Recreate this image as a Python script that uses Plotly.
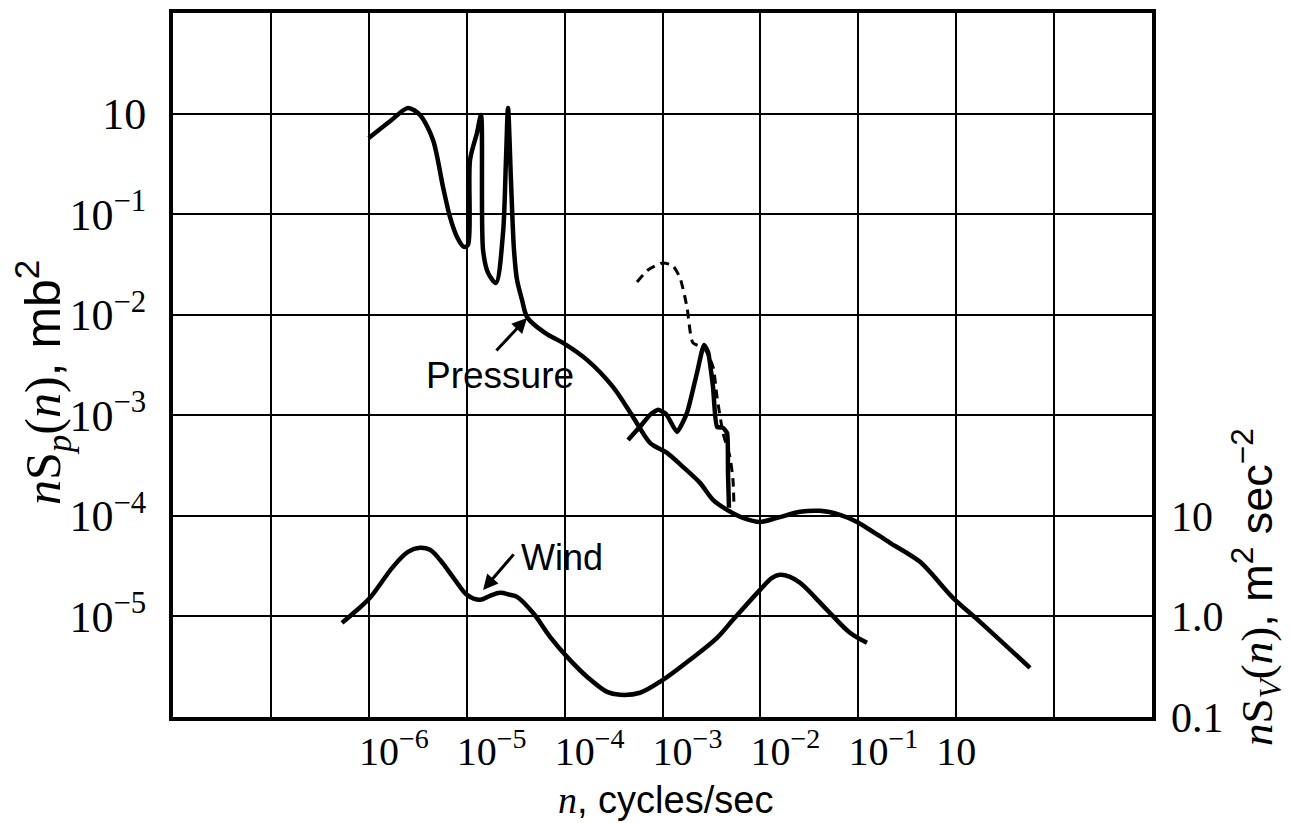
import numpy as np
import plotly.graph_objects as go

# ---------------- data (log10 values) ----------------
# Pressure spectrum, main solid curve (left axis, mb^2)
pressure_log_n = [-6.0, -5.78, -5.60, -5.477, -5.344, -5.242, -5.171, -5.099, -5.028, -4.987,
                  -4.966, -4.895, -4.854, -4.833, -4.782, -4.701, -4.629, -4.599, -4.578, -4.548,
                  -4.517, -4.486, -4.435, -4.384, -4.2, -4.016, -3.771, -3.506, -3.301, -3.128,
                  -2.954, -2.791, -2.617, -2.484, -2.341, -2.178, -2.004, -1.830, -1.595, -1.391,
                  -1.187, -1.013, -0.676, -0.370, -0.033, 0.243, 0.754]
pressure_log_S = [-0.243, -0.074, 0.056, -0.014, -0.262, -0.730, -1.028, -1.227, -1.326, -1.306,
                  -0.461, -0.193, -0.014, -1.356, -1.584, -1.684, -1.187, -0.461, 0.056, -0.660,
                  -1.356, -1.654, -1.853, -2.022, -2.181, -2.280, -2.449, -2.718, -3.016, -3.274,
                  -3.374, -3.513, -3.672, -3.841, -3.940, -4.020, -4.060, -4.020, -3.960, -3.950,
                  -3.990, -4.060, -4.268, -4.457, -4.815, -5.054, -5.511]

# Pressure spectrum, second solid branch (microbarograph peak)
pressure2_log_n = [-3.352, -3.230, -3.128, -3.046, -2.964, -2.852, -2.750, -2.648, -2.576, -2.535,
                   -2.484, -2.443, -2.382, -2.341, -2.331, -2.321]
pressure2_log_S = [-3.245, -3.115, -2.996, -2.946, -2.986, -3.165, -2.976, -2.579, -2.300, -2.370,
                   -2.718, -3.115, -3.125, -3.175, -3.573, -3.920]

# Pressure spectrum, dashed branch
pressure_dash_log_n = [-3.260, -3.148, -2.995, -2.893, -2.821, -2.750, -2.689, -2.576, -2.484,
                       -2.443, -2.382, -2.311, -2.280, -2.270]
pressure_dash_log_S = [-1.674, -1.555, -1.485, -1.515, -1.634, -1.922, -2.280, -2.330, -2.519,
                       -2.817, -3.175, -3.414, -3.642, -3.911]

# Wind spectrum (right axis, m^2 sec^-2)
wind_log_n = [-6.274, -6.141, -5.988, -5.753, -5.600, -5.477, -5.375, -5.273, -5.120, -4.997,
              -4.864, -4.762, -4.660, -4.558, -4.486, -4.323, -4.149, -3.975, -3.771, -3.567,
              -3.434, -3.230, -2.995, -2.719, -2.443, -2.280, -2.004, -1.881, -1.800, -1.698,
              -1.595, -1.320, -1.085, -0.911]
wind_log_S = [-0.064, 0.046, 0.185, 0.493, 0.642, 0.682, 0.662, 0.563, 0.364, 0.215,
              0.165, 0.205, 0.235, 0.215, 0.195, 0.036, -0.203, -0.402, -0.600, -0.750,
              -0.779, -0.759, -0.630, -0.431, -0.213, -0.034, 0.264, 0.384, 0.414, 0.394,
              0.334, 0.066, -0.163, -0.262]

# Axis ticks (as printed in the original figure)
x_tick_vals = [1e-8, 1e-7, 1e-6, 1e-5, 1e-4, 1e-3, 1e-2, 1e-1, 1e0, 1e1, 1e2]
x_tick_labels = ["", "", "10<sup>−6</sup>", "10<sup>−5</sup>", "10<sup>−4</sup>", "10<sup>−3</sup>",
                 "10<sup>−2</sup>", "10<sup>−1</sup>", "10" + "\u00a0" * 5, "", ""]
y_tick_vals = [1e-6, 1e-5, 1e-4, 1e-3, 1e-2, 1e-1, 1e0, 1e1]
y_tick_labels = ["", "10<sup>−5</sup>", "10<sup>−4</sup>", "10<sup>−3</sup>", "10<sup>−2</sup>",
                 "10<sup>−1</sup>", "10", ""]
y2_tick_vals = [0.1, 1.0, 10.0]
y2_tick_labels = ["0.1", "1.0", "10"]

# ---------------------------------------------------------------------------
def p10(a):
    return 10 ** np.array(a)

SERIF = "Liberation Serif"
SANS = "Liberation Sans"
LW = 4.5

# page offset (browser body margin) and plot-area geometry
W, H = 1283, 815
L, T, PW, PH = 165, 5, 979, 704

def px(xp):   # screen x (reference pixels) -> paper x
    return (xp - 8 - L) / PW

def py(yp):   # screen y (reference pixels) -> paper y
    return (T + PH - (yp - 8)) / PH

fig = go.Figure()
fig.add_trace(go.Scatter(x=p10(pressure_log_n), y=p10(pressure_log_S), mode="lines",
                         line=dict(color="black", width=LW, shape="spline", smoothing=0.8),
                         showlegend=False))
fig.add_trace(go.Scatter(x=p10(pressure2_log_n), y=p10(pressure2_log_S), mode="lines",
                         line=dict(color="black", width=LW, shape="spline", smoothing=0.5),
                         showlegend=False))
fig.add_trace(go.Scatter(x=p10(pressure_dash_log_n), y=p10(pressure_dash_log_S), mode="lines",
                         line=dict(color="black", width=3, dash="9px,6px", shape="spline", smoothing=0.6),
                         showlegend=False))
fig.add_trace(go.Scatter(x=p10(wind_log_n), y=p10(wind_log_S), mode="lines", yaxis="y2",
                         line=dict(color="black", width=LW, shape="spline", smoothing=1.0),
                         showlegend=False))

axis_common = dict(type="log", showline=True, linecolor="black", linewidth=4, mirror=True,
                   showgrid=True, gridcolor="black", gridwidth=2, ticks="", zeroline=False,
                   automargin=False)

fig.update_layout(
    width=W, height=H,
    margin=dict(l=L, r=W - L - PW, t=T, b=H - T - PH),
    paper_bgcolor="white", plot_bgcolor="white",
    showlegend=False,
    xaxis=dict(**axis_common, range=[-8, 2], tickvals=x_tick_vals, ticktext=x_tick_labels,
               tickangle=0, ticklabelshift=25,
               tickfont=dict(family=SERIF, size=40, color="black"), ticklabelstandoff=-4),
    yaxis=dict(**axis_common, range=[-6, 1], tickvals=y_tick_vals, ticktext=y_tick_labels,
               tickfont=dict(family=SERIF, size=44, color="black"), ticklabelstandoff=14),
    yaxis2=dict(type="log", overlaying="y", side="right", range=[-1, 6], showgrid=False,
                showline=False, zeroline=False, ticks="", tickvals=y2_tick_vals, automargin=False,
                ticktext=y2_tick_labels, tickfont=dict(family=SERIF, size=42, color="black"),
                ticklabelstandoff=18),
)

annotations = [
    # axis titles
    dict(text="<i>n</i>S<sub><i>p</i></sub>(<i>n</i>)<span style='font-family:Liberation Sans'>, mb<sup>2</sup></span>",
         xref="paper", yref="paper", x=px(43), y=py(383), xanchor="center", yanchor="middle",
         showarrow=False, textangle=-90, font=dict(family=SERIF, size=50, color="black")),
    dict(text="<i>n</i>S<sub><i>V</i></sub>(<i>n</i>)<span style='font-family:Liberation Sans'>, m<sup>2</sup> sec<sup>−2</sup></span>",
         xref="paper", yref="paper", x=px(1256), y=py(587), xanchor="center", yanchor="middle",
         showarrow=False, textangle=-90, font=dict(family=SERIF, size=45, color="black")),
    dict(text="<i>n</i><span style='font-family:Liberation Sans'>, cycles/sec</span>",
         xref="paper", yref="paper", x=px(665), y=py(800), xanchor="center", yanchor="middle",
         showarrow=False, font=dict(family=SERIF, size=38, color="black")),
    # curve labels
    dict(text="Pressure", xref="x", yref="y", x=-4.66, y=-2.60, showarrow=False,
         xanchor="center", yanchor="middle", font=dict(family=SANS, size=37, color="black")),
    dict(text="Wind", xref="x", yref="y", x=-4.027, y=-4.41, showarrow=False,
         xanchor="center", yanchor="middle", font=dict(family=SANS, size=36, color="black")),
    # arrows
    dict(text="", xref="x", yref="y", axref="x", ayref="y", x=-4.384, y=-2.032, ax=-4.711, ay=-2.370,
         showarrow=True, arrowhead=2, arrowwidth=3, arrowsize=1, arrowcolor="black", standoff=0),
    dict(text="", xref="x", yref="y", axref="x", ayref="y", x=-4.833, y=-4.736, ax=-4.507, ay=-4.368,
         showarrow=True, arrowhead=2, arrowwidth=3, arrowsize=1, arrowcolor="black", standoff=0),
]
fig.update_layout(annotations=annotations)

fig.write_html("out.html")
